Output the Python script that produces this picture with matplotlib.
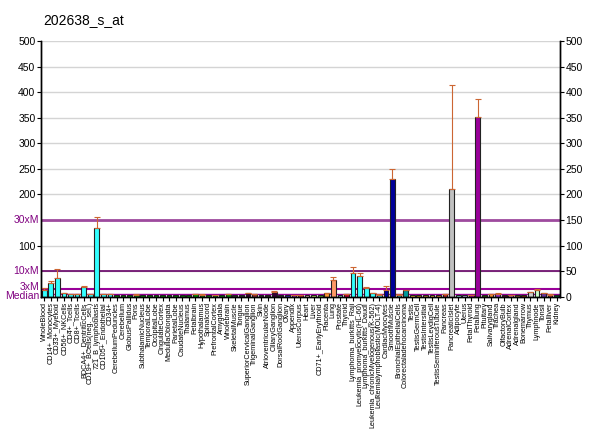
import matplotlib
matplotlib.use("Agg")
import matplotlib.pyplot as plt

plt.rcParams["font.family"] = ["Liberation Sans", "DejaVu Sans"]

title = "202638_s_at"

tissues = [
    "WholeBlood", "CD14+_Monocytes", "CD33+_Myeloid", "CD56+_NKCells", "CD4+_Tcells",
    "CD8+_Tcells", "BDCA4+_DentriticCells", "CD19+_BCells(neg._sel.)", "721_B_lymphoblasts",
    "CD105+_Endothelial", "CD34+", "CerebellumPeduncles", "Cerebellum", "GlobusPallidus",
    "Pons", "SubthalamicNucleus", "TemporalLobe", "OccipitalLobe", "CingulateCortex",
    "MedullaOblongata", "ParietalLobe", "CaudateNucleus", "Thalamus", "Fetalbrain",
    "Hypothalamus", "Spinalcord", "PrefrontalCortex", "Amygdala", "Wholebrain",
    "SkeletalMuscle", "Tongue", "SuperiorCervicalGanglion", "TrigeminalGanglion", "Skin",
    "AtrioventricularNode", "CiliaryGanglion", "DorsalRootGanglion", "Ovary", "Appendix",
    "UterusCorpus", "Heart", "Liver", "CD71+_EarlyErythroid", "Placenta", "Lung",
    "Prostate", "Thyroid", "Lymphoma_burkitts_Raji", "Leukemia_promyelocytic(HL-60)",
    "Lymphoma_burkitts_Daudi", "Leukemia_chronicMyelogenous(K-562)",
    "Leukemialymphoblastic(MOLT-4)", "CardiacMyocytes", "SmoothMuscle",
    "BronchialEpithelialCells", "Colorectaladenocarcinoma", "Testis", "TestisGermCell",
    "TestisIntersitial", "TestisLeydigCell", "TestisSeminiferousTubule", "Pancreas",
    "PancreaticIslet", "Adipocyte", "Uterus", "FetalThyroid", "Fetallung", "Pituitary",
    "Salivarygland", "Trachea", "OlfactoryBulb", "AdrenalCortex", "Adrenalgland",
    "Bonemarrow", "Thymus", "Lymphnode", "Tonsil", "Fetalliver", "Kidney",
]

values = [
    13, 26, 37, 6.6, 4.7, 4.7, 19.6, 4.7, 135, 4.7, 4.7,
    3, 3, 3, 3.5, 3, 3, 3, 3, 3, 3, 3, 3, 4.5, 4, 3, 3.5, 3, 4.5,
    3, 3, 7, 4.5, 3, 3, 9, 3, 3, 3.5, 3.5, 3, 3, 3, 6.6, 33, 3, 4.5,
    47, 41, 16.4, 6.6, 4, 13, 230, 4, 13,
    3, 3, 3, 3, 3, 4.5, 210, 3, 3, 3.5, 351,
    3, 4.5, 6, 3, 3, 3, 3, 8.6, 13, 7, 4, 3,
]

errors = [
    3.4, 4.7, 16.6, 1.4, 0.5, 0.8, 0.8, 0.5, 20, 0.5, 0.5,
    0, 0, 0, 1.5, 0, 0, 0, 0, 0, 0, 0, 0, 0.5, 1, 0, 0.5, 0, 0.5,
    0, 0, 1, 1, 0, 0, 3, 0, 0, 0.5, 0.5, 0, 0, 0, 1.5, 6, 0, 0.5,
    11.7, 4.7, 2.6, 0.5, 0.3, 8.5, 20, 0.5, 0.5,
    0, 0, 0, 0, 0, 0.8, 203, 0, 0, 0.5, 35,
    0, 1.5, 0.5, 0, 0.5, 0, 0, 0.5, 2.6, 0.5, 0.8, 0,
]

bar_colors = (
    ["#33ffff"] * 11
    + ["#009900"] * 18
    + ["#333333", "#333333", "#330033", "#993333", "#333333", "#333333", "#330033",
       "#333333", "#3333cc", "#9933cc", "#cc3333", "#ffcccc", "#ccff66", "#66cc33",
       "#ff9933", "#ff9966", "#99ccff", "#cc0033"]
    + ["#33ffff"] * 5
    + ["#000099", "#000099", "#33cccc", "#009999"]
    + ["#ffcc33", "#cc9900", "#cc9933", "#ffcc33", "#ff9933"]
    + ["#cc3333", "#c0c0c0", "#99ffff", "#ccccff", "#cc00cc", "#990099",
       "#336600", "#ff9933", "#9933cc", "#660033", "#ff99cc", "#996633",
       "#993300", "#cccccc", "#ccffcc", "#663399", "#cc3333", "#006633"]
)

median = 5
fold_lines = [median, 3 * median, 10 * median, 30 * median]
fold_labels = ["Median", "3xM", "10xM", "30xM"]
fold_colors = ["#990099", "#990099", "#660066", "#9e4a9e"]
fold_widths = [1.0, 1.5, 1.2, 2.0]
label_offsets = [-3.0, 3.5, 0, 0]

fig = plt.figure(figsize=(6.0, 4.34), dpi=100)
ax = fig.add_axes([0.0683, 0.3164, 0.865, 0.5891])

x = list(range(len(values)))
ax.set_xlim(-0.5, len(values) - 0.5)
ax.set_ylim(0, 500)

for yv in range(50, 501, 50):
    ax.axhline(yv, color="#d4d4d4", lw=1.0, zorder=0)
for yv, c, w in zip(fold_lines, fold_colors, fold_widths):
    ax.axhline(yv, color=c, lw=w, zorder=1)

ax.bar(x, values, width=0.72, color=bar_colors, edgecolor="#222222", linewidth=0.8, zorder=2)
err_x = [i for i, e in zip(x, errors) if e > 0]
err_y = [v for v, e in zip(values, errors) if e > 0]
err_up = [e for e in errors if e > 0]
ax.errorbar(err_x, err_y, yerr=[[0] * len(err_up), err_up], fmt="none",
            ecolor="#cc6633", elinewidth=0.8, capsize=2, capthick=0.8, zorder=3)

left_ticks = [100, 200, 250, 300, 350, 400, 450, 500]
ax.set_yticks(left_ticks)
ax.set_yticklabels([str(t) for t in left_ticks], fontsize=7.5)
ax.tick_params(axis="y", length=3, pad=1)
for yv, lab, off in zip(fold_lines, fold_labels, label_offsets):
    ax.text(-0.8, yv + off, lab, color="#800080", fontsize=7.5, ha="right",
            va="center")

ax2 = ax.twinx()
ax2.set_ylim(0, 500)
ax2.set_yticks(range(0, 501, 50))
ax2.set_yticklabels([str(t) for t in range(0, 501, 50)], fontsize=7.5)
ax2.tick_params(axis="y", length=3, pad=1)

ax.set_xticks(x)
ax.set_xticklabels(tissues, rotation=90, fontsize=5.2)
ax.tick_params(axis="x", length=3, pad=1)

for a in (ax, ax2):
    a.spines["top"].set_visible(False)
    for s in ("left", "right", "bottom"):
        a.spines[s].set_linewidth(1.0)

fig.text(0.072, 0.955, title, fontsize=10, ha="left", va="center")

fig.savefig("out.png", dpi=100)
